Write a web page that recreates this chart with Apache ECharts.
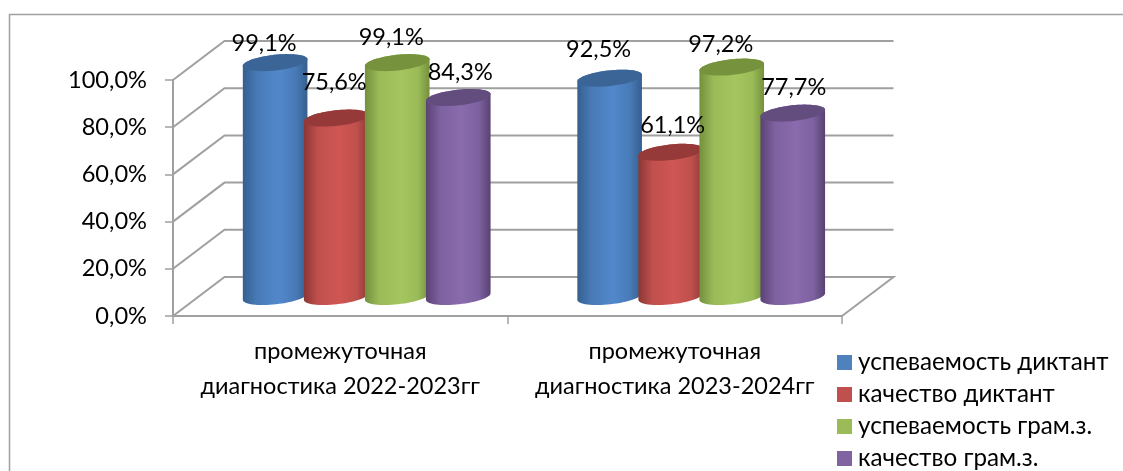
<!DOCTYPE html>
<html><head><meta charset="utf-8">
<style>html,body{margin:0;padding:0;background:#fff}#c{width:1123px;height:471px}</style>
<script src="https://cdn.jsdelivr.net/npm/echarts@6/dist/echarts.min.js"></script>
</head><body><div id="c"></div>
<script>
const categories = ['промежуточная\nдиагностика 2022-2023гг', 'промежуточная\nдиагностика 2023-2024гг'];
const seriesNames = ['успеваемость диктант', 'качество диктант', 'успеваемость грам.з.', 'качество грам.з.'];
const uspevDiktant = [99.1, 92.5];
const kachDiktant = [75.6, 61.1];
const uspevGram = [99.1, 97.2];
const kachGram = [84.3, 77.7];
const yTicks = [0, 20, 40, 60, 80, 100];

// Styling / layout only
const FONT = 'Lato, "Open Sans", sans-serif';
const GRAY = '#a0a0a0';
const DEPTH = [51.5, -39];
const BAR_SHIFT = 0.7;
const TILT = 6.2 * Math.PI / 180;
const RX = 32.5, RY = 7.8;
const STEP = 0.1825, 
      LABEL_NUDGE = [
        [[-11, -19], [-11, -29]],
        [[-2, -36], [2, -27]],
        [[-6, -25], [-11, -23]],
        [[2, -25], [1, -26]]
      ];
const PALETTE = [
  {edge:'#34608f', mid1:'#487ab6', mid2:'#5288cb', end:'#355f8e', top:'#3b6596', key:'#4f81bd'},
  {edge:'#8b3735', mid1:'#c0504d', mid2:'#cf5653', end:'#8d3937', top:'#953a38', key:'#c0504d'},
  {edge:'#73903b', mid1:'#9bbb59', mid2:'#a5c560', end:'#74913b', top:'#76923c', key:'#9bbb59'},
  {edge:'#5a4374', mid1:'#7d61a0', mid2:'#8a6bad', end:'#584272', top:'#634c7e', key:'#8064a2'}
];

function ellipsePt(cx, cy, t) {
  const c = Math.cos(TILT), s = Math.sin(TILT);
  const ex = RX * Math.cos(t), ey = RY * Math.sin(t);
  return [cx + ex * c + ey * s, cy - ex * s + ey * c];
}

function cylinderRenderer(idx) {
  return function (params, api) {
    const cat = api.value(0), val = api.value(1);
    const band = api.size([1, 0])[0];
    const top = api.coord([cat, val]);
    const base = api.coord([cat, 0]);
    const cx = top[0] + (idx - 1.5) * STEP * band + DEPTH[0] / 2 + BAR_SHIFT;
    const ty = top[1] + DEPTH[1] / 2;
    const by = base[1] + DEPTH[1] / 2;
    const body = [];
    const N = 32;
    for (let i = 0; i <= N; i++) body.push(ellipsePt(cx, by, i / N * Math.PI));
    for (let i = 0; i <= N; i++) body.push(ellipsePt(cx, ty, Math.PI + i / N * Math.PI));
    const cap = [];
    for (let i = 0; i < 64; i++) cap.push(ellipsePt(cx, ty, i / 64 * 2 * Math.PI));
    const p = PALETTE[idx];
    const nudge = LABEL_NUDGE[idx][cat];
    return {
      type: 'group',
      children: [
        {type: 'polygon', shape: {points: body}, z2: 10 + idx * 2, style: {
          fill: new echarts.graphic.LinearGradient(0, 0, 1, 0, [
            {offset: 0, color: p.edge},
            {offset: 0.22, color: p.mid1},
            {offset: 0.55, color: p.mid2},
            {offset: 0.82, color: p.mid1},
            {offset: 1, color: p.end}
          ])
        }},
        {type: 'polygon', shape: {points: cap}, z2: 11 + idx * 2, style: {fill: p.top}},
        {type: 'text', z2: 100, style: {
          x: cx + nudge[0], y: ty + nudge[1],
          text: val.toFixed(1).replace('.', ',') + '%',
          align: 'center', verticalAlign: 'middle',
          font: '23.5px ' + FONT, fill: '#000'
        }}
      ]
    };
  };
}

function wallRenderer(params, api) {
  const v = api.value(1);
  const cs = params.coordSys;
  const y = api.coord([0, v])[1];
  const pts = [[cs.x, y], [cs.x + DEPTH[0], y + DEPTH[1]], [cs.x + cs.width + DEPTH[0], y + DEPTH[1]]];
  if (v === 0) pts.push([cs.x + cs.width, y]);
  return {type: 'polyline', shape: {points: pts}, style: {stroke: GRAY, lineWidth: 2, fill: null}, z2: 1};
}

const seriesValues = [uspevDiktant, kachDiktant, uspevGram, kachGram];
const series = [{
  type: 'custom', silent: true, renderItem: wallRenderer, clip: false,
  data: yTicks.map(v => [0, v])
}].concat(seriesValues.map((vals, i) => ({
  type: 'custom', name: seriesNames[i], silent: true, clip: false,
  renderItem: cylinderRenderer(i),
  itemStyle: {color: PALETTE[i].key},
  data: vals.map((v, c) => [c, v])
})));

const chart = echarts.init(document.getElementById('c'), null, {renderer: 'canvas'});
chart.setOption({
  animation: false,
  backgroundColor: '#fff',
  textStyle: {fontFamily: FONT},
  grid: {left: 173, top: 80, width: 669, height: 236, containLabel: false},
  xAxis: {
    type: 'category', data: categories,
    axisLine: {lineStyle: {color: GRAY, width: 2}},
    axisTick: {show: true, length: 8, lineStyle: {color: GRAY, width: 1.5}},
    axisLabel: {color: '#000', fontSize: 23.5, lineHeight: 35, margin: 18, interval: 0, fontFamily: FONT}
  },
  yAxis: {
    type: 'value', min: 0, max: 100, interval: 20,
    axisLine: {show: true, lineStyle: {color: GRAY, width: 2}},
    axisTick: {show: true, length: 8, lineStyle: {color: GRAY, width: 1.5}},
    splitLine: {show: false},
    axisLabel: {color: '#000', fontSize: 23.6, margin: 26, fontFamily: FONT, padding: [3, 0, 0, 0],
      formatter: v => v.toFixed(1).replace('.', ',') + '%'}
  },
  legend: {
    data: seriesNames, orient: 'vertical', left: 837, top: 350.5, height: 125,
    itemWidth: 15, itemHeight: 15, itemGap: 8, icon: 'rect', padding: 0,
    selectedMode: false,
    textStyle: {color: '#000', fontSize: 24.2, fontFamily: FONT, padding: [0, 0, 0, 1], lineHeight: 24}
  },
  graphic: [{
    type: 'polyline', silent: true,
    shape: {points: [[9.5, 471], [9.5, 14.5], [1123, 14.5]]},
    style: {stroke: GRAY, lineWidth: 1.5, fill: null}
  }],
  series: series
});
</script></body></html>
